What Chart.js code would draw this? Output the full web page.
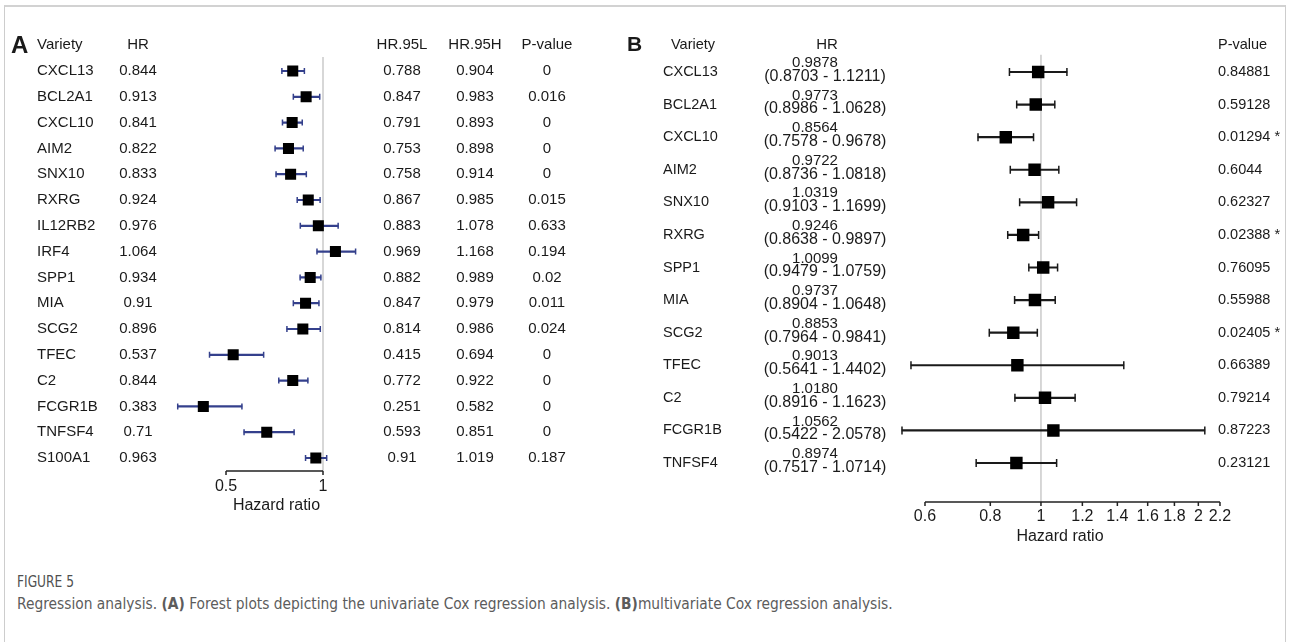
<!DOCTYPE html>
<html><head><meta charset="utf-8">
<script src="https://cdn.jsdelivr.net/npm/chart.js@4.4.1/dist/chart.umd.min.js"></script>
<style>
html,body{margin:0;padding:0;background:#fff;width:1290px;height:642px;overflow:hidden;position:relative;}
#frame{position:absolute;left:4px;top:5px;width:1282px;height:700px;border:1px solid #cdcdcd;border-top:2px solid #d2d2d2;box-sizing:border-box;}
#cA{position:absolute;left:0;top:0;}
#cB{position:absolute;left:620px;top:0;}
.cap{position:absolute;left:17px;color:#5c5c5c;font-family:"Liberation Sans Narrow","DejaVu Sans Condensed",sans-serif;white-space:nowrap;line-height:18px;transform-origin:0 50%;}
</style></head><body>
<div id="frame"></div>
<canvas id="cA" width="620" height="560"></canvas>
<canvas id="cB" width="670" height="560"></canvas>
<div class="cap" id="fig" style="top:573px;font-size:16px;color:#505050;">FIGURE 5</div>
<div class="cap" id="capt" style="top:595px;font-size:16px;">Regression analysis. <b>(A)</b> Forest plots depicting the univariate Cox regression analysis. <b>(B)</b>multivariate Cox regression analysis.</div>
<script>
// ---- Panel A: univariate Cox regression ----
const uniGenes = ['CXCL13','BCL2A1','CXCL10','AIM2','SNX10','RXRG','IL12RB2','IRF4','SPP1','MIA','SCG2','TFEC','C2','FCGR1B','TNFSF4','S100A1'];
const uniHR    = [0.844,0.913,0.841,0.822,0.833,0.924,0.976,1.064,0.934,0.91,0.896,0.537,0.844,0.383,0.71,0.963];
const uniLow   = [0.788,0.847,0.791,0.753,0.758,0.867,0.883,0.969,0.882,0.847,0.814,0.415,0.772,0.251,0.593,0.91];
const uniHigh  = [0.904,0.983,0.893,0.898,0.914,0.985,1.078,1.168,0.989,0.979,0.986,0.694,0.922,0.582,0.851,1.019];
const uniP     = [0,0.016,0,0,0,0.015,0.633,0.194,0.02,0.011,0.024,0,0,0,0,0.187];
const uniTicks = [0.5, 1];

// ---- Panel B: multivariate Cox regression ----
const multiGenes = ['CXCL13','BCL2A1','CXCL10','AIM2','SNX10','RXRG','SPP1','MIA','SCG2','TFEC','C2','FCGR1B','TNFSF4'];
const multiHR    = [0.9878,0.9773,0.8564,0.9722,1.0319,0.9246,1.0099,0.9737,0.8853,0.9013,1.0180,1.0562,0.8974];
const multiLow   = [0.8703,0.8986,0.7578,0.8736,0.9103,0.8638,0.9479,0.8904,0.7964,0.5641,0.8916,0.5422,0.7517];
const multiHigh  = [1.1211,1.0628,0.9678,1.0818,1.1699,0.9897,1.0759,1.0648,0.9841,1.4402,1.1623,2.0578,1.0714];
const multiP     = [0.84881,0.59128,0.01294,0.6044,0.62327,0.02388,0.76095,0.55988,0.02405,0.66389,0.79214,0.87223,0.23121];
const multiTicks = [0.6,0.8,1,1.2,1.4,1.6,1.8,2,2.2];

const FONT = '"Liberation Sans", Arial, sans-serif';
const TXT = '#1a1a1a';

const forestDecor = {
  id: 'forestDecor',
  beforeDatasetsDraw(chart, args, o) {
    const {ctx, chartArea} = chart;
    const xs = chart.scales.x;
    const axisY = chartArea.bottom + o.axisGap;
    ctx.save();
    const rx = xs.getPixelForValue(o.refValue);
    ctx.strokeStyle = '#c6c6c6'; ctx.lineWidth = 1.4;
    ctx.beginPath(); ctx.moveTo(rx, chartArea.top - 1); ctx.lineTo(rx, axisY); ctx.stroke();
    ctx.strokeStyle = '#222'; ctx.lineWidth = 1.5;
    const ticks = xs.ticks.map(t => xs.getPixelForValue(t.value));
    ctx.beginPath();
    ctx.moveTo(ticks[0], axisY); ctx.lineTo(ticks[ticks.length-1], axisY);
    ticks.forEach(p => { ctx.moveTo(p, axisY); ctx.lineTo(p, axisY + o.tickLen); });
    ctx.stroke();
    ctx.restore();
  },
  afterDraw(chart, args, o) {
    const {ctx} = chart;
    const ys = chart.scales.y;
    ctx.save();
    ctx.fillStyle = TXT;
    ctx.textBaseline = 'middle';
    ctx.font = 'bold ' + o.letter.size + 'px ' + FONT;
    ctx.textAlign = 'left';
    ctx.fillText(o.letter.text, o.letter.x - o.left, o.letter.y);
    o.columns.forEach(c => {
      ctx.font = c.size + 'px ' + FONT;
      ctx.textAlign = c.align;
      if (c.header) ctx.fillText(c.header, (c.hx != null ? c.hx : c.x) - o.left, o.headerY);
      c.values.forEach((v, i) => {
        ctx.fillText(v, c.x - o.left, ys.getPixelForValue(i) + (c.dy || 0));
      });
    });
    ctx.restore();
  }
};

function makeForest(id, d) {
  const cats = d.genes;
  return new Chart(document.getElementById(id), {
    type: 'bar',
    data: {
      labels: cats,
      datasets: [
        { type: 'scatter', data: cats.map((g, i) => ({x: d.hr[i], y: g})), pointStyle: 'rect',
          pointRadius: d.boxR, pointHoverRadius: d.boxR, backgroundColor: '#000', borderColor: '#000', borderWidth: 0, order: 0 },
        { type: 'scatter', data: cats.map((g, i) => ({x: d.low[i], y: g})), pointStyle: 'line', rotation: 90,
          pointRadius: d.capR, pointHoverRadius: d.capR, borderColor: d.color, backgroundColor: d.color, borderWidth: 1.5, order: 1 },
        { type: 'scatter', data: cats.map((g, i) => ({x: d.high[i], y: g})), pointStyle: 'line', rotation: 90,
          pointRadius: d.capR, pointHoverRadius: d.capR, borderColor: d.color, backgroundColor: d.color, borderWidth: 1.5, order: 1 },
        { type: 'bar', data: cats.map((g, i) => [d.low[i], d.high[i]]), backgroundColor: d.color,
          borderWidth: 0, barThickness: 1.5, order: 2 }
      ]
    },
    options: {
      responsive: false, animation: false, indexAxis: 'y',
      layout: { padding: d.padding },
      plugins: { legend: {display: false}, tooltip: {enabled: false}, forestDecor: d.decor },
      scales: {
        y: { type: 'category', display: false, offset: true },
        x: {
          type: d.xType, min: d.min, max: d.max, bounds: 'data',
          grid: { display: false, drawTicks: false }, border: { display: false },
          afterBuildTicks: s => { s.ticks = d.ticks.map(v => ({value: v})); },
          afterFit: s => { s.height = d.axisH; },
          ticks: { autoSkip: false, maxRotation: 0, minRotation: 0, padding: d.tickPad, color: TXT,
                   font: {family: FONT, size: 16}, callback: (v, i) => String(d.ticks[i]) },
          title: { display: true, text: 'Hazard ratio', color: TXT, font: {family: FONT, size: 16},
                   padding: {top: 0, bottom: d.titlePad} }
        }
      }
    },
    plugins: [forestDecor]
  });
}

makeForest('cA', {
  genes: uniGenes, hr: uniHR, low: uniLow, high: uniHigh, ticks: uniTicks,
  xType: 'linear', min: 0.22, max: 1.3, color: '#34408c', boxR: 7.8, capR: 3,
  padding: {left: 171.7, right: 238.8, top: 58.1, bottom: 44.1}, axisH: 45, tickPad: 6.5, titlePad: 0.3,
  decor: {
    axisGap: 0, tickLen: 4, refValue: 1, left: 0, headerY: 45,
    letter: {text: 'A', x: 11, y: 46, size: 24},
    columns: [
      {x: 37, align: 'left', size: 15, header: 'Variety', values: uniGenes},
      {x: 138, align: 'center', size: 15, header: 'HR', values: uniHR.map(String)},
      {x: 402, align: 'center', size: 15, header: 'HR.95L', values: uniLow.map(String)},
      {x: 475, align: 'center', size: 15, header: 'HR.95H', values: uniHigh.map(String)},
      {x: 547, align: 'center', size: 15, header: 'P-value', values: uniP.map(String)}
    ]
  }
});

makeForest('cB', {
  genes: multiGenes, hr: multiHR, low: multiLow, high: multiHigh, ticks: multiTicks,
  xType: 'logarithmic', min: 0.5, max: 2.364, color: '#1a1a1a', boxR: 8.8, capR: 4,
  padding: {left: 263.6, right: 53.7, top: 55.7, bottom: 10.7}, axisH: 70, tickPad: 28.1, titlePad: 2.7,
  decor: {
    axisGap: 22.7, tickLen: 4, refValue: 1, left: 620, headerY: 45,
    letter: {text: 'B', x: 627, y: 45, size: 21},
    columns: [
      {x: 663, hx: 671, align: 'left', size: 14.5, header: 'Variety', values: multiGenes},
      {x: 815, hx: 827, align: 'center', size: 15, header: 'HR', dy: -9, values: multiHR.map(v => v.toFixed(4))},
      {x: 825, align: 'center', size: 16, dy: 4.5, values: multiLow.map((v, i) => '(' + v.toFixed(4) + ' - ' + multiHigh[i].toFixed(4) + ')')},
      {x: 1218, align: 'left', size: 14.5, header: 'P-value', values: multiP.map(v => String(v) + (v < 0.05 ? ' *' : ''))}
    ]
  }
});

// fit caption widths to the figure
(function fit() {
  const f = document.getElementById('fig'), c = document.getElementById('capt');
  const size = 16 * 876 / c.getBoundingClientRect().width;
  c.style.fontSize = size.toFixed(2) + 'px';
  f.style.fontSize = (size * 1.06).toFixed(2) + 'px';
  const w = f.getBoundingClientRect().width;
  f.style.transform = 'scaleX(' + (57 / w).toFixed(3) + ')';
})();
</script>
</body></html>
